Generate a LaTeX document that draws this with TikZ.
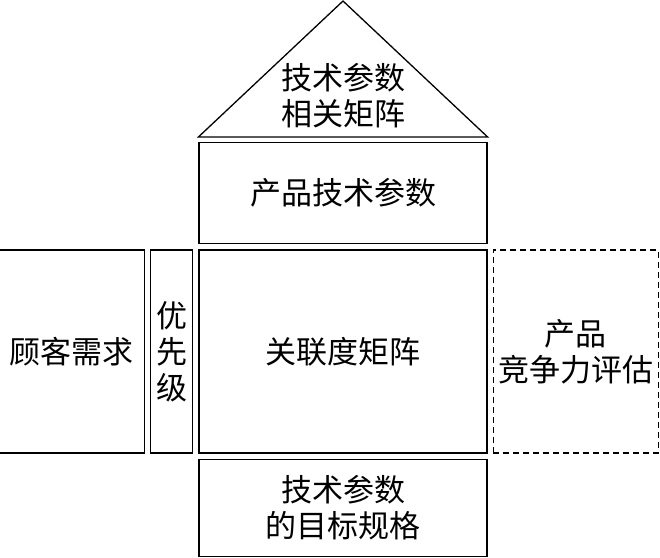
\documentclass[tikz,border=0pt]{standalone}
\usepackage{fontspec}
\newfontfamily\cjk{Noto Sans CJK SC}
\usetikzlibrary{positioning, calc}
\tikzset{
  block/.style={
    rectangle, draw=black, line width=1.3pt, align=center,
    minimum width=#1, inner sep=0pt,
    font=\cjk\fontsize{31}{36}\selectfont
  },
  block/.default=288pt,
  dashblock/.style={
    block=#1, dash pattern=on 6pt off 4pt, line width=1.1pt
  }
}

\begin{document}
\begin{tikzpicture}[x=1pt, y=1pt, node distance=5pt]
  \useasboundingbox (0,0) rectangle (660,557);

  % Centre of the house
  \node[block, minimum height=203pt] (relation) at (343,205.5) {关联度矩阵};
  \node[block, minimum height=101pt, above=of relation] (params) {产品技术参数};
  \node[block, minimum height=97pt, below=of relation] (target) {技术参数\\的目标规格};

  % Left side
  \node[block=42pt, minimum height=203pt, left=of relation] (priority) {优\\先\\级};
  \node[block=145pt, minimum height=203pt, left=of priority] (needs) {顾客需求};

  % Right side
  \node[dashblock=165pt, minimum height=203pt, right=of relation] (compete) {产品\\竞争力评估};

  % Roof
  \coordinate (roofl) at ($(params.north west)+(0,5)$);
  \coordinate (roofr) at ($(params.north east)+(0,5)$);
  \coordinate (apex) at (343,556);
  \draw[line width=1.3pt, line join=miter] (roofl) -- (apex) -- (roofr) -- cycle;
  \node[block, draw=none, minimum width=0pt] (roof) at (343,461) {技术参数\\相关矩阵};

\end{tikzpicture}
\end{document}
